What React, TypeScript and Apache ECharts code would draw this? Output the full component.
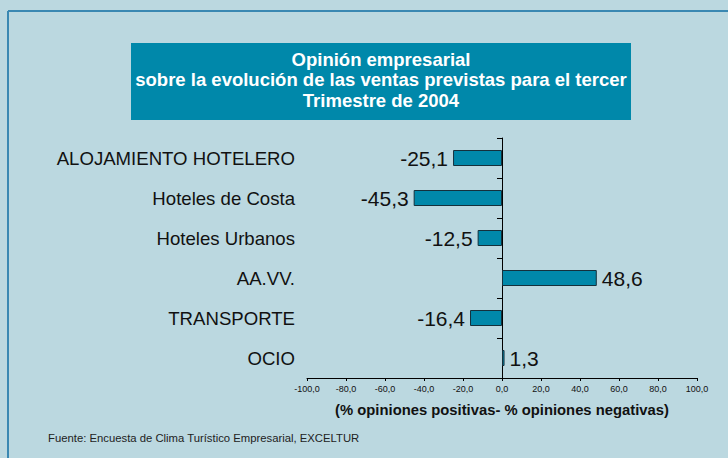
import React, { useEffect, useRef } from "react";
import * as echarts from "echarts";

const categories = [
  "ALOJAMIENTO HOTELERO",
  "Hoteles de Costa",
  "Hoteles Urbanos",
  "AA.VV.",
  "TRANSPORTE",
  "OCIO",
];
const values = [-25.1, -45.3, -12.5, 48.6, -16.4, 1.3];
const titleLines = [
  "Opinión empresarial",
  "sobre la evolución de las ventas previstas para el tercer",
  "Trimestre de 2004",
];
const axisName = "(% opiniones positivas- % opiniones negativas)";
const sourceText = "Fuente: Encuesta de Clima Turístico Empresarial, EXCELTUR";

const fmt = (v: number) => v.toFixed(1).replace(".", ",");
const FONT = "Liberation Sans, Arial, sans-serif";

export default function App() {
  const ref = useRef<HTMLDivElement>(null);
  useEffect(() => {
    if (!ref.current) return;
    const chart = echarts.init(ref.current, undefined, { renderer: "svg" });
    chart.setOption({
      animation: false,
      backgroundColor: "#BBD8E0",
      textStyle: { fontFamily: FONT },
      grid: { left: 307, right: 31, top: 138, bottom: 80, containLabel: false },
      xAxis: {
        type: "value",
        min: -100,
        max: 100,
        interval: 20,
        splitLine: { show: false },
        axisLine: { show: true, lineStyle: { color: "#000", width: 1 } },
        axisTick: { show: true, length: 3, lineStyle: { color: "#000" } },
        axisLabel: {
          formatter: (v: number) => fmt(v),
          fontSize: 9,
          color: "#111",
          margin: 6,
          fontFamily: FONT,
        },
        name: axisName,
        nameLocation: "middle",
        nameGap: 24,
        nameTextStyle: {
          fontSize: 14.8,
          fontWeight: "bold",
          color: "#111",
          fontFamily: FONT,
        },
      },
      yAxis: [
        {
          type: "category",
          data: categories,
          inverse: true,
          axisLine: { show: true, onZero: true, lineStyle: { color: "#000", width: 1 } },
          axisTick: { show: true, length: 5, lineStyle: { color: "#000" } },
          axisLabel: { show: false },
        },
        {
          type: "category",
          data: categories,
          inverse: true,
          position: "left",
          offset: 0,
          axisLine: { show: false, onZero: false },
          axisTick: { show: false },
          axisLabel: {
            show: true,
            fontSize: 18.6,
            color: "#111",
            margin: 12,
            fontFamily: FONT,
          },
        },
      ],
      series: [
        {
          type: "bar",
          yAxisIndex: 0,
          barWidth: "40%",
          data: values.map((v) => ({
            value: v,
            label: { position: v < 0 ? "left" : "right" },
          })),
          itemStyle: { color: "#0088AA", borderColor: "#14303C", borderWidth: 1 },
          label: {
            show: true,
            formatter: (p: any) => fmt(p.value),
            fontSize: 21,
            color: "#111",
            distance: 5,
            fontFamily: FONT,
          },
        },
      ],
      graphic: [
        {
          type: "line",
          shape: { x1: 8, y1: 11, x2: 728, y2: 11 },
          style: { stroke: "#3A88B2", lineWidth: 2 },
        },
        {
          type: "line",
          shape: { x1: 8, y1: 11, x2: 8, y2: 458 },
          style: { stroke: "#3A88B2", lineWidth: 2 },
        },
        {
          type: "rect",
          shape: { x: 131, y: 43, width: 500, height: 77 },
          style: { fill: "#0088AA" },
        },
        {
          type: "text",
          x: 381,
          y: 49,
          style: {
            text: titleLines.join("\n"),
            fill: "#fff",
            fontSize: 18.5,
            fontWeight: "bold",
            lineHeight: 20.5,
            align: "center",
            verticalAlign: "top",
            fontFamily: FONT,
          },
        },
        {
          type: "text",
          x: 48,
          y: 438,
          style: {
            text: sourceText,
            fill: "#222",
            fontSize: 11.3,
            verticalAlign: "middle",
            fontFamily: FONT,
          },
        },
      ],
    });
    return () => chart.dispose();
  }, []);
  return (
    <div
      ref={ref}
      style={{ position: "absolute", left: 0, top: 0, width: 728, height: 458 }}
    />
  );
}
